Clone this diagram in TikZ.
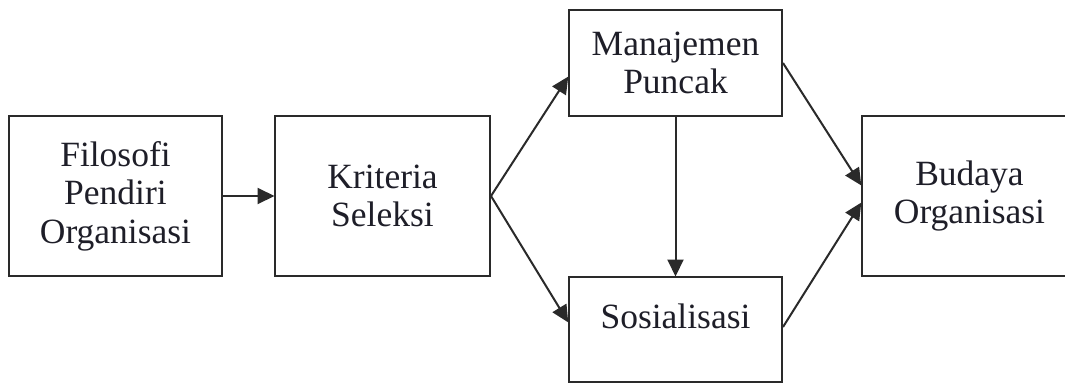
\documentclass[tikz,border=0pt]{standalone}
\usepackage{fontspec}
\setmainfont{Liberation Serif}
\usetikzlibrary{arrows.meta,positioning}
\definecolor{edge}{HTML}{2A2A2A}
\definecolor{ink}{HTML}{1E1E28}
\begin{document}
\begin{tikzpicture}[x=1pt,y=-1pt,
  box/.style={draw=edge, line width=2pt, fill=white, text=ink, align=center,
    inner sep=0pt, font=\fontsize{35.5}{38.5}\selectfont},
  link/.style={draw=edge, line width=2pt, -{Triangle[length=17pt,width=16pt]}, shorten >=-0.5pt}
]
\useasboundingbox (0,0) rectangle (1065,383);
\fill[white] (0,0) rectangle (1065,383);

% the five stages
\node[box, minimum width=213pt, minimum height=160pt] (fil) at (115.5,196) {Filosofi\\Pendiri\\Organisasi};
\node[box, minimum width=215pt, minimum height=160pt] (kri) at (382.5,196) {Kriteria\\Seleksi};
\node[box, minimum width=213pt, minimum height=106pt] (man) at (675.5,63) {Manajemen\\Puncak};
\node[box, minimum width=213pt, minimum height=105pt, text depth=27pt] (sos) at (675.5,329.5) {Sosialisasi};
\node[box, minimum width=215pt, minimum height=160pt] (bud) at (969.5,196) {Budaya\\Organisasi};

% flow between stages
\draw[link] (fil.east) -- (kri.west);
\draw[link] (kri.east) -- (man.west |- 0,77);
\draw[link] (kri.east) -- (sos.west |- 0,322);
\draw[link] (man.south) -- (sos.north);
\draw[link] (man.east) -- (bud.west |- 0,185);
\draw[link] (sos.east |- 0,327) -- (bud.west |- 0,203);
\end{tikzpicture}
\end{document}
